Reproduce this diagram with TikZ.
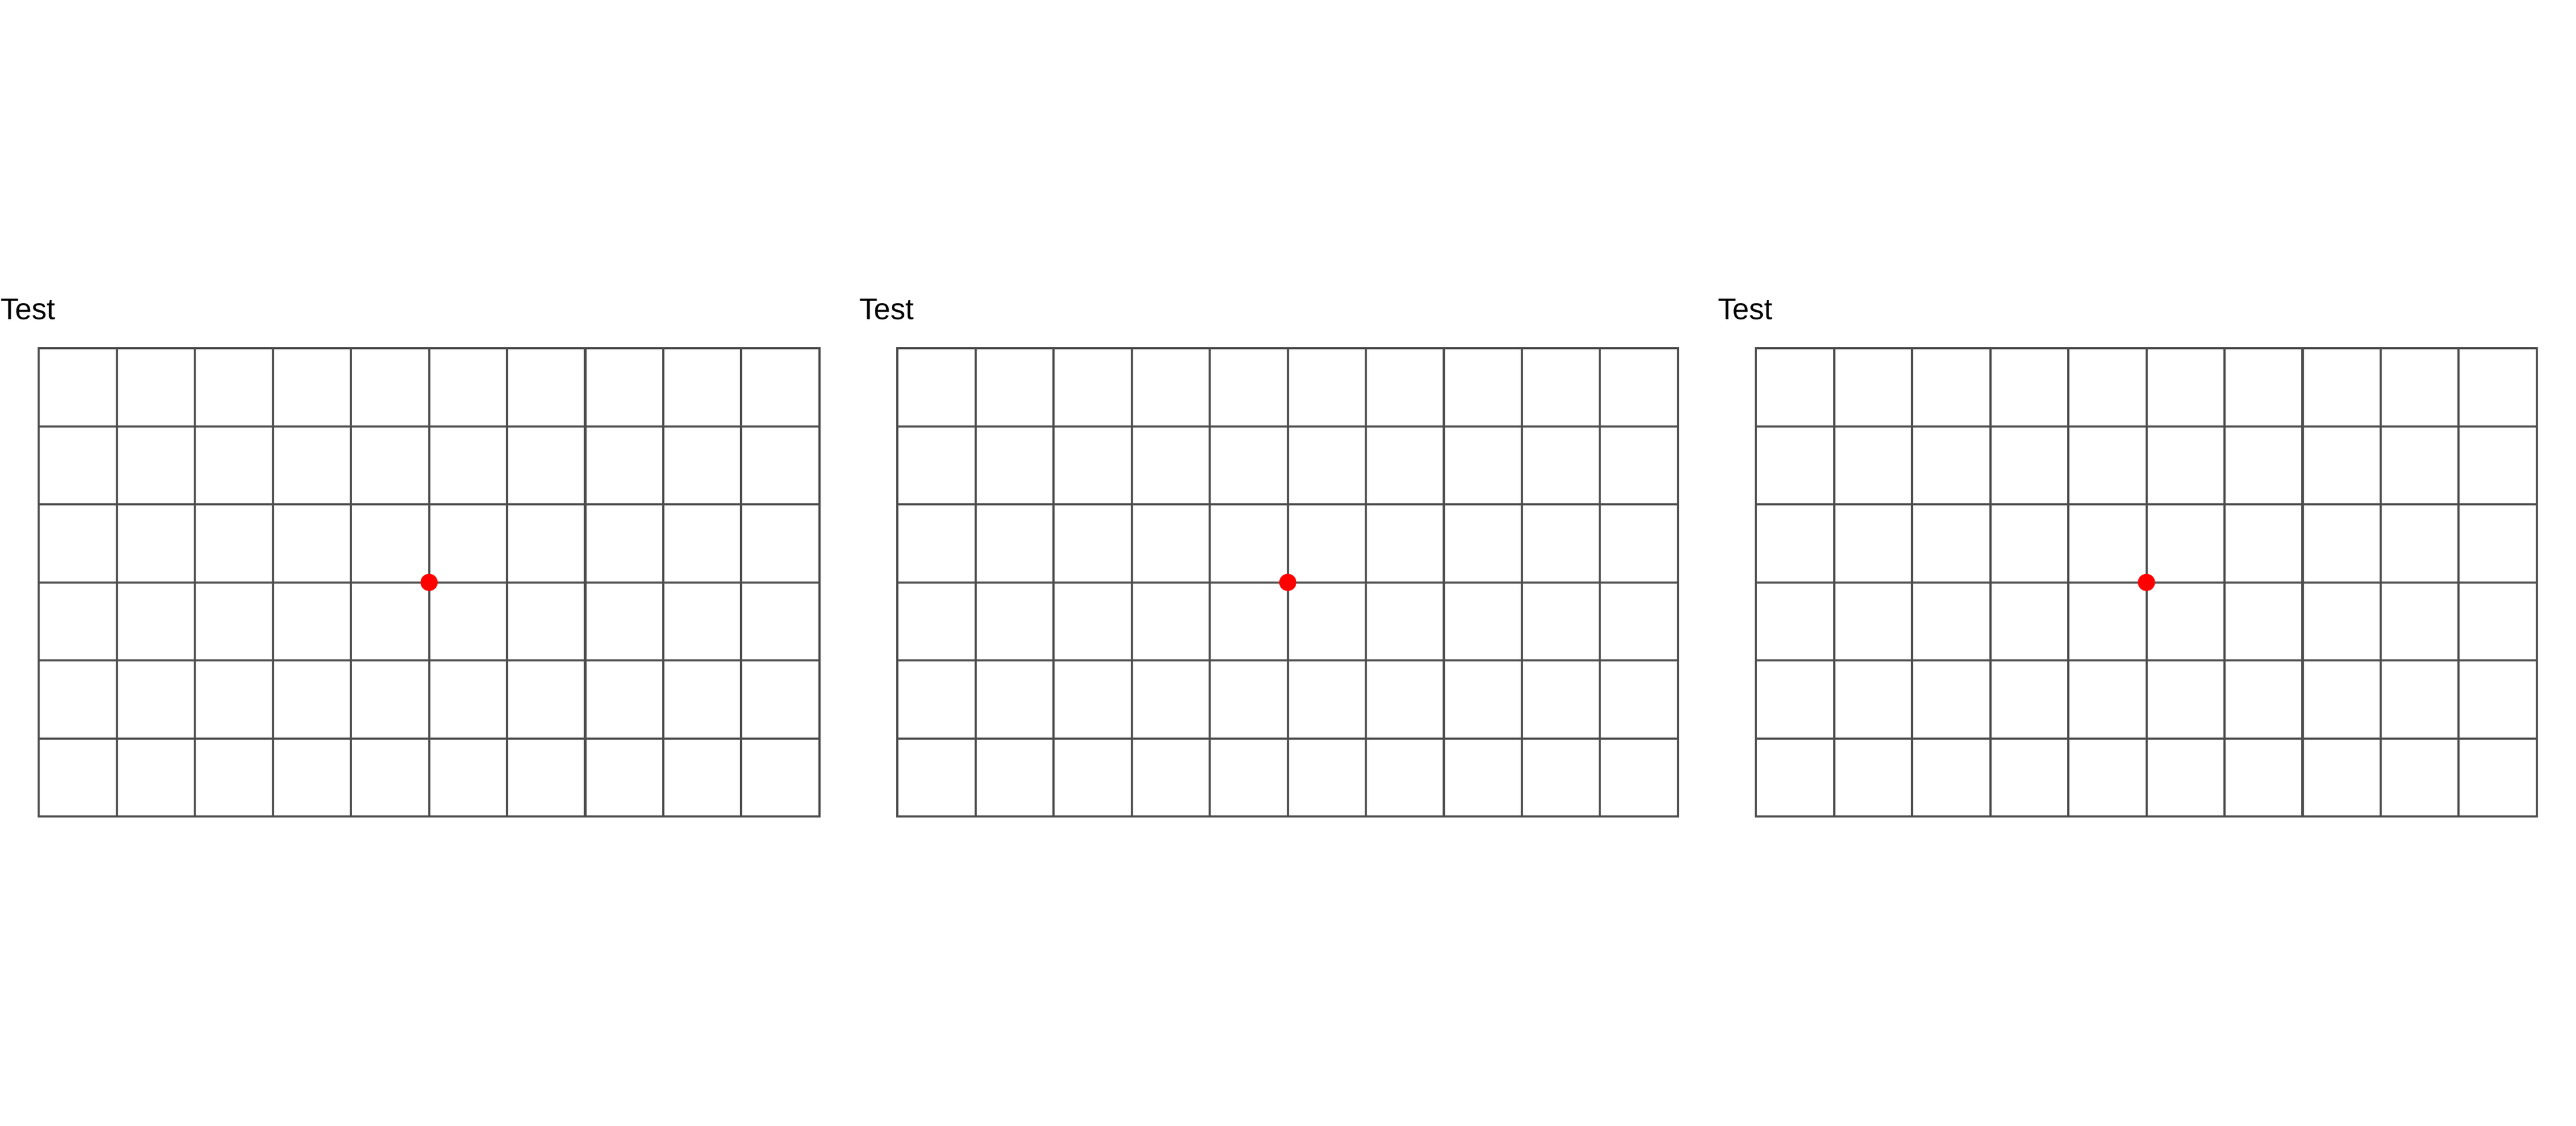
\documentclass[tikz,border=0pt]{standalone}
\usepackage{fontspec}
\setmainfont{Liberation Sans}
\definecolor{gridgray}{HTML}{4D4D4D}
\begin{document}
\begin{tikzpicture}[
    gridline/.style={draw=gridgray, line width=0.8pt, line cap=rect},
    paneltitle/.style={anchor=base west, inner sep=0pt, font=\fontsize{10.9}{13}\selectfont},
    centredot/.style={circle, fill=red, draw=none, inner sep=0pt, minimum size=0.22cm}
  ]
  \useasboundingbox (-0.497,-3.965) rectangle (32.503,10.464);
  \foreach \p in {0,1,2} {
    \begin{scope}[xshift=\p*11cm]
      \draw[gridline] (0,0) grid (10,6);
      \node[paneltitle] (title\p) at (-0.497,6.373) {Test};
      \node[centredot] (dot\p) at (5,3) {};
    \end{scope}
  }
\end{tikzpicture}
\end{document}
